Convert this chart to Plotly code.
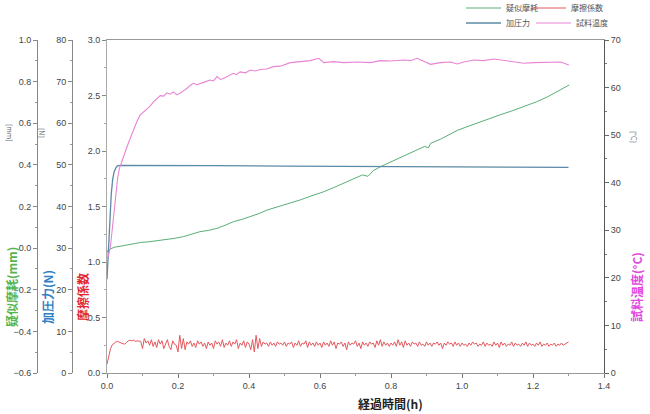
import plotly.graph_objects as go

# ---------------- data ----------------
wear_time = [0.0, 0.004, 0.02, 0.037, 0.055, 0.074, 0.095, 0.121, 0.145, 0.168, 0.19, 0.215, 0.24, 0.262, 0.285,
             0.31, 0.333, 0.356, 0.38, 0.404, 0.428, 0.451, 0.475, 0.498, 0.5165, 0.545, 0.5775, 0.6105, 0.64,
             0.67, 0.7045, 0.72, 0.735, 0.75, 0.770, 0.80, 0.825, 0.846, 0.87, 0.895, 0.905, 0.912, 0.94, 0.965,
             0.987, 1.02, 1.05, 1.081, 1.11, 1.14, 1.175, 1.21, 1.24, 1.269, 1.302]
wear_mm = [-0.02, -0.009, 0.004, 0.010, 0.016, 0.023, 0.027, 0.031, 0.036, 0.042, 0.047, 0.055, 0.066, 0.079, 0.085,
           0.095, 0.110, 0.127, 0.138, 0.151, 0.166, 0.183, 0.196, 0.208, 0.215, 0.232, 0.252, 0.271, 0.292,
           0.314, 0.343, 0.352, 0.345, 0.372, 0.391, 0.414, 0.432, 0.452, 0.470, 0.489, 0.482, 0.504, 0.524, 0.546,
           0.566, 0.587, 0.606, 0.624, 0.642, 0.659, 0.680, 0.703, 0.726, 0.752, 0.784]

fric_time = [round(i * 0.005, 3) for i in range(261)]
fric_coef = [0.08, 0.16, 0.22, 0.255, 0.27, 0.28, 0.285, 0.275, 0.27, 0.265,
             0.26, 0.275, 0.29, 0.295, 0.29, 0.295, 0.285, 0.29, 0.29, 0.285,
             0.22, 0.31, 0.27, 0.29, 0.25, 0.30, 0.24, 0.28, 0.23, 0.30, 0.26, 0.29, 0.22, 0.27, 0.30, 0.24, 0.21, 0.29, 0.26, 0.25,
             0.19, 0.34, 0.22, 0.31, 0.21, 0.28, 0.26, 0.29, 0.24, 0.27, 0.23, 0.29, 0.26, 0.28, 0.24, 0.27, 0.22, 0.28, 0.25, 0.27,
             0.22, 0.29, 0.26, 0.28, 0.24, 0.30, 0.23, 0.27, 0.25, 0.29, 0.24, 0.28, 0.26, 0.30, 0.22, 0.27, 0.25, 0.29, 0.23, 0.28,
             0.26, 0.21, 0.30, 0.19, 0.34, 0.22, 0.31, 0.24, 0.28, 0.26, 0.27, 0.24, 0.28, 0.25, 0.27, 0.24, 0.28, 0.26, 0.27, 0.25,
             0.28, 0.24, 0.27, 0.26, 0.28, 0.23, 0.27, 0.25, 0.29, 0.24, 0.27, 0.26, 0.29, 0.23, 0.28, 0.25, 0.27, 0.24, 0.28, 0.25,
             0.27, 0.23, 0.28, 0.25, 0.27, 0.24, 0.29, 0.25, 0.28, 0.22, 0.27, 0.26, 0.28, 0.24, 0.27, 0.21, 0.28, 0.25, 0.27, 0.26,
             0.29, 0.24, 0.27, 0.22, 0.28, 0.25, 0.27, 0.24, 0.28, 0.26, 0.27, 0.23, 0.29, 0.25, 0.30, 0.24, 0.28, 0.25, 0.27, 0.24,
             0.27, 0.25, 0.28, 0.24, 0.30, 0.25, 0.28, 0.23, 0.29, 0.25, 0.27, 0.24, 0.28, 0.26, 0.27, 0.24, 0.28, 0.25, 0.26, 0.24,
             0.28, 0.25, 0.27, 0.24, 0.27, 0.26, 0.28, 0.25, 0.27, 0.22, 0.27, 0.25, 0.28, 0.26, 0.27, 0.24, 0.28, 0.25, 0.27, 0.24,
             0.27, 0.25, 0.26, 0.24, 0.27, 0.25, 0.28, 0.26, 0.27, 0.24, 0.26, 0.25, 0.28, 0.24, 0.27, 0.25, 0.26, 0.24, 0.28, 0.25,
             0.27, 0.23, 0.28, 0.25, 0.27, 0.24, 0.26, 0.25, 0.28, 0.24, 0.27, 0.25, 0.26, 0.24, 0.27, 0.25, 0.28, 0.24, 0.27, 0.25,
             0.26, 0.24, 0.27, 0.25, 0.28, 0.24, 0.26, 0.25, 0.27, 0.24, 0.26, 0.25, 0.27, 0.24, 0.26, 0.25, 0.27, 0.25, 0.26, 0.27,
             0.28]

force_time = [0.0, 0.004, 0.008, 0.012, 0.016, 0.02, 0.025, 0.03, 0.04, 0.1, 0.3, 0.5, 0.7, 0.9, 1.1, 1.3]
force_n = [22.5, 30.0, 37.5, 43.0, 46.5, 48.3, 49.3, 49.8, 49.9, 49.9, 49.8, 49.7, 49.6, 49.5, 49.45, 49.4]

temp_time = [0.0, 0.005, 0.01, 0.015, 0.02, 0.025, 0.03, 0.035, 0.04, 0.05, 0.06, 0.074, 0.084, 0.093, 0.103,
             0.112, 0.12, 0.131, 0.14, 0.15, 0.16, 0.168, 0.178, 0.187, 0.196, 0.206, 0.215, 0.225, 0.235,
             0.244, 0.253, 0.262, 0.276, 0.29, 0.30, 0.31, 0.32, 0.328, 0.342, 0.356, 0.365, 0.375, 0.39,
             0.404, 0.418, 0.432, 0.45, 0.469, 0.488, 0.507, 0.5165, 0.5447, 0.5729, 0.5964, 0.6105, 0.6387,
             0.6669, 0.7045, 0.742, 0.770, 0.7984, 0.836, 0.8548, 0.8736, 0.8924, 0.9112, 0.9394, 0.9676,
             0.9864, 1.005, 1.033, 1.061, 1.090, 1.118, 1.146, 1.174, 1.202, 1.231, 1.259, 1.278, 1.301]
temp_c = [23.8, 25.0, 26.8, 30.5, 34.5, 38.0, 41.0, 43.0, 44.2, 46.2, 48.3, 51.1, 52.8, 54.2, 54.9,
          55.6, 56.0, 57.0, 57.6, 58.3, 58.2, 58.9, 58.6, 59.1, 58.5, 58.8, 59.3, 59.8, 60.5,
          60.9, 60.6, 60.9, 61.2, 61.6, 61.4, 62.3, 61.7, 61.9, 62.5, 63.0, 62.7, 63.3, 63.1,
          63.7, 63.5, 63.8, 63.9, 64.4, 64.5, 65.1, 65.24, 65.45, 65.66, 66.15, 65.24, 65.45,
          65.24, 65.38, 65.24, 65.66, 65.59, 65.80, 65.66, 66.15, 65.45, 64.88, 65.24, 65.38,
          64.96, 65.38, 65.80, 65.66, 66.01, 65.66, 65.45, 65.10, 65.24, 65.31, 65.24, 65.38, 64.74]

x_ticks = [0.0, 0.2, 0.4, 0.6, 0.8, 1.0, 1.2, 1.4]

# ---------------- layout geometry ----------------
W, H = 650, 414
ML, MR, MT, MB = 5, 5, 40, 41
PW = W - ML - MR
PH = H - MT - MB


def px(x):
    return (x - ML) / PW


def py(y):
    return (H - MB - y) / PH


TICKFONT = dict(family="Liberation Sans, Arial, sans-serif", size=9, color="#444")
CJK = "Noto Sans CJK JP, sans-serif"

fig = go.Figure()
fig.add_trace(go.Scatter(x=wear_time, y=wear_mm, name="疑似摩耗", mode="lines", yaxis="y2",
                         line=dict(color="#5aae78", width=1), legend="legend"))
fig.add_trace(go.Scatter(x=fric_time, y=fric_coef, name="摩擦係数", mode="lines", yaxis="y",
                         line=dict(color="#e4585e", width=1), legend="legend2"))
fig.add_trace(go.Scatter(x=force_time, y=force_n, name="加圧力", mode="lines", yaxis="y3",
                         line=dict(color="#5b8aa6", width=1.3), legend="legend3"))
fig.add_trace(go.Scatter(x=temp_time, y=temp_c, name="試料温度", mode="lines", yaxis="y4",
                         line=dict(color="#e884d4", width=1.1), legend="legend4"))

axis_common = dict(showgrid=False, zeroline=False, ticks="outside", ticklen=4, tickwidth=1,
                   tickfont=TICKFONT, showline=True, linewidth=1, automargin=False)

legend_common = dict(orientation="h", xanchor="left", yanchor="middle",
                     font=dict(family=CJK, size=8, color="#555"), itemwidth=35,
                     bgcolor="rgba(0,0,0,0)", tracegroupgap=0)

fig.update_layout(
    width=W, height=H,
    margin=dict(l=ML, r=MR, t=MT, b=MB, autoexpand=False),
    paper_bgcolor="white", plot_bgcolor="white",
    font=dict(family=CJK, color="#444"),
    xaxis=dict(domain=[px(107), px(604)], range=[0, 1.4], tickvals=x_ticks,
               ticktext=[f"{v:.1f}" for v in x_ticks], mirror=True, linecolor="#999",
               tickcolor="#777", minor=dict(dtick=0.1, ticks="outside", ticklen=2, tickcolor="#999"),
               **axis_common),
    yaxis=dict(range=[0, 3.0], dtick=0.5, tickformat=".1f", linecolor="#aaa", tickcolor="#888",
               anchor="x", side="left",
               minor=dict(dtick=0.25, ticks="outside", ticklen=2, tickcolor="#aaa"), **axis_common),
    yaxis2=dict(range=[-0.6, 1.0], dtick=0.2, tickformat=".1f", overlaying="y", anchor="free",
                position=px(37), side="left", linecolor="#888", tickcolor="#888",
                minor=dict(dtick=0.1, ticks="outside", ticklen=2, tickcolor="#999"), **axis_common),
    yaxis3=dict(range=[0, 80], dtick=10, overlaying="y", anchor="free", position=px(72), side="left",
                linecolor="#888", tickcolor="#888",
                minor=dict(dtick=5, ticks="outside", ticklen=2, tickcolor="#999"), **axis_common),
    yaxis4=dict(range=[0, 70], dtick=10, overlaying="y", anchor="x", side="right",
                linecolor="#555", tickcolor="#666",
                minor=dict(dtick=5, ticks="outside", ticklen=2, tickcolor="#777"), **axis_common),
    legend=dict(x=px(461), y=1 + (MT - 8) / PH, **legend_common),
    legend2=dict(x=px(526), y=1 + (MT - 8) / PH, **legend_common),
    legend3=dict(x=px(461), y=1 + (MT - 23) / PH, **legend_common),
    legend4=dict(x=px(531), y=1 + (MT - 23) / PH, **legend_common),
    showlegend=True,
)

ann = [
    dict(text="<b>疑似摩耗(mm)</b>", x=px(11), y=py(287), color="#55b54f", size=12, angle=-90),
    dict(text="<b>加圧力(N)</b>", x=px(47), y=py(297), color="#2f80c4", size=12, angle=-90),
    dict(text="<b>摩擦係数</b>", x=px(82), y=py(297), color="#e2262c", size=12, angle=-90),
    dict(text="<b>試料温度(°C)</b>", x=px(636), y=py(287), color="#e246e0", size=12, angle=-90),
    dict(text="[mm]", x=px(10), y=py(133), color="#666", size=7, angle=90),
    dict(text="[N]", x=px(42), y=py(133), color="#666", size=7, angle=90),
    dict(text="[°C]", x=px(634), y=py(137), color="#666", size=7, angle=90),
    dict(text="<b>経過時間(h)</b>", x=px(390), y=py(403), color="#222", size=12, angle=0),
]
for a in ann:
    fig.add_annotation(text=a["text"], x=a["x"], y=a["y"], xref="paper", yref="paper",
                       showarrow=False, textangle=a["angle"], xanchor="center", yanchor="middle",
                       font=dict(family=CJK, size=a["size"], color=a["color"]))

fig.write_html("out.html", config={"displayModeBar": False},
               post_script="document.body.style.margin='0';")
